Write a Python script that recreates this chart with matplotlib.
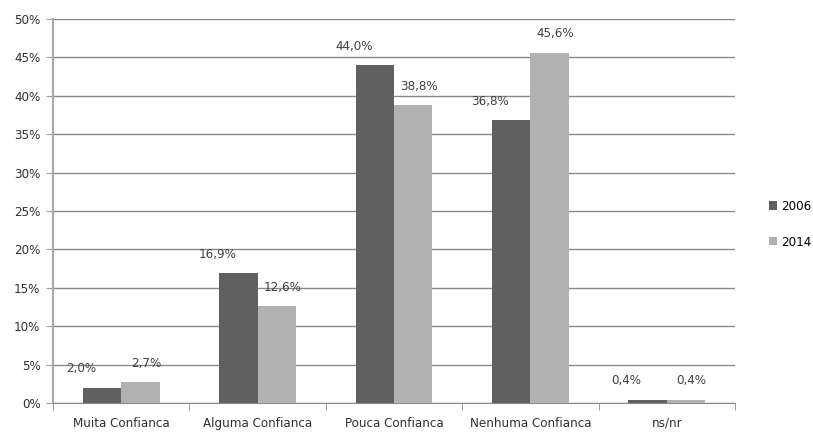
import numpy as np
import matplotlib
matplotlib.use("Agg")
import matplotlib.pyplot as plt
from matplotlib.ticker import FuncFormatter, FixedLocator

categories = ["Muita Confianca", "Alguma Confianca", "Pouca Confianca",
              "Nenhuma Confianca", "ns/nr"]
years = ["2006", "2014"]
values_2006 = [2.0, 16.9, 44.0, 36.8, 0.4]
values_2014 = [2.7, 12.6, 38.8, 45.6, 0.4]

plt.rcParams['font.family'] = ['DejaVu Sans']
plt.rcParams['font.stretch'] = 'condensed'

fig = plt.figure(figsize=(8.13, 4.34), dpi=100)
ax = fig.add_axes([0.0652, 0.0714, 0.8388, 0.8846])

x = np.arange(len(categories))
w = 0.282
colors = ["#606060", "#b1b1b1"]
label_dx = [-15, 4]

for i, (vals, c) in enumerate(zip([values_2006, values_2014], colors)):
    pos = x + (i - 0.5) * w
    ax.bar(pos, vals, width=w, color=c, label=years[i], zorder=3)
    for px, v in zip(pos, vals):
        ax.annotate(f"{v:.1f}%".replace(".", ","), (px, v),
                    xytext=(label_dx[i], 9), textcoords="offset points",
                    ha="center", va="bottom", fontsize=9.5, color="#404040")

ax.set_xlim(-0.5, len(categories) - 0.5)
ax.set_ylim(0, 50)
ax.set_yticks(np.arange(0, 51, 5))
ax.yaxis.set_major_formatter(FuncFormatter(lambda v, p: f"{int(v)}%"))
ax.grid(axis="y", color="#8a8a8a", linewidth=1, zorder=0)

ax.set_xticks(x)
ax.set_xticklabels(categories)
ax.xaxis.set_minor_locator(FixedLocator(np.arange(-0.5, len(categories), 1)))
ax.tick_params(axis="x", which="major", length=0, pad=10, labelsize=9.5, labelcolor="#303030")
ax.tick_params(axis="x", which="minor", length=5, color="#8a8a8a")
ax.tick_params(axis="y", length=5, color="#a0a0a0", labelsize=9.5, labelcolor="#303030", pad=4)

for s in ["top", "right"]:
    ax.spines[s].set_visible(False)
ax.spines["left"].set_color("#a8a8a8")
ax.spines["left"].set_linewidth(1.5)
ax.spines["bottom"].set_color("#8a8a8a")

ax.legend(loc="center left", bbox_to_anchor=(1.05, 0.465), frameon=False,
          borderpad=0, borderaxespad=0,
          fontsize=9.5, handlelength=0.6, handleheight=0.6, labelspacing=1.7,
          handletextpad=0.3)

fig.savefig("out.png", dpi=100)
